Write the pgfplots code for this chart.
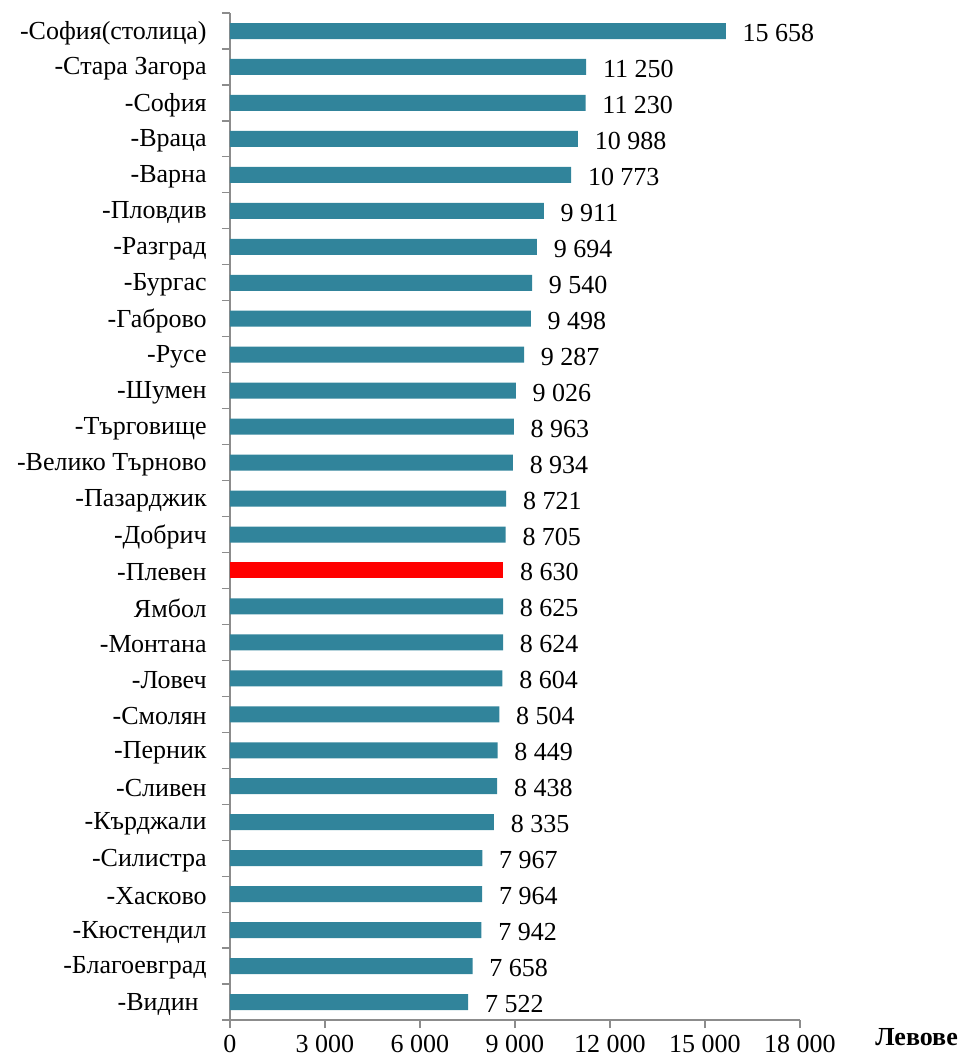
\documentclass[border=0pt]{standalone}
\usepackage{fontspec}
\setmainfont{Liberation Serif}
\usepackage{pgfplots}
\pgfplotsset{compat=1.18}
\definecolor{barteal}{HTML}{31849B}
\definecolor{axgray}{HTML}{8C8C8C}
\begin{document}
\fontsize{26}{30}\selectfont
\begin{tikzpicture}
\useasboundingbox (-230pt,-41pt) rectangle (730pt,1020pt);
\begin{axis}[
  anchor=south west, at={(0pt,0pt)},
  scale only axis, width=570pt, height=1007pt,
  xmin=0, xmax=18000, ymin=-0.5, ymax=27.5,
  y dir=reverse,
  xbar, bar width=16pt, bar shift=0pt,
  axis x line*=bottom, axis y line*=left,
  axis line style={axgray, line width=1.2pt},
  xtick={0,3000,...,18000},
  xticklabels={0,3 000,6 000,9 000,12 000,15 000,18 000},
  ytick={0,...,27},
  yticklabels={-София(столица),-Стара Загора,-София,-Враца,-Варна,-Пловдив,-Разград,-Бургас,-Габрово,-Русе,-Шумен,-Търговище,-Велико Търново,-Пазарджик,-Добрич,-Плевен,Ямбол,-Монтана,-Ловеч,-Смолян,-Перник,-Сливен,-Кърджали,-Силистра,-Хасково,-Кюстендил,-Благоевград,{-Видин\kern8pt}},
  minor ytick={-0.5,0.5,...,27.5},
  tick align=outside,
  major tick length=8pt,
  minor tick length=8pt,
  y tick style={draw=none},
  minor y tick style={draw=axgray, line width=1.2pt},
  x tick style={draw=axgray, line width=1.2pt},
  every tick label/.style={font=\fontsize{26}{30}\selectfont},
  yticklabel style={xshift=-6.5pt, yshift=-2pt},
  xticklabel style={yshift=2pt},
  /pgf/number format/assume math mode=true,
  nodes near coords,
  nodes near coords style={anchor=west, xshift=8pt, yshift=-2pt, font=\fontsize{26}{30}\selectfont,
    /pgf/number format/.cd, fixed, precision=0, 1000 sep={\ }},
  clip=false,
]
\addplot[fill=barteal, draw=none] coordinates {
(15658,0) (11250,1) (11230,2) (10988,3) (10773,4) (9911,5) (9694,6) (9540,7) (9498,8) (9287,9) (9026,10) (8963,11) (8934,12) (8721,13) (8705,14)
(8625,16) (8624,17) (8604,18) (8504,19) (8449,20) (8438,21) (8335,22) (7967,23) (7964,24) (7942,25) (7658,26) (7522,27)};
\addplot[fill=red, draw=none] coordinates {(8630,15)};
\end{axis}
\node[anchor=base east, inner sep=0pt, font=\bfseries\fontsize{26}{30}\selectfont] at (728pt,-25pt) {Левове};
\end{tikzpicture}
\end{document}
